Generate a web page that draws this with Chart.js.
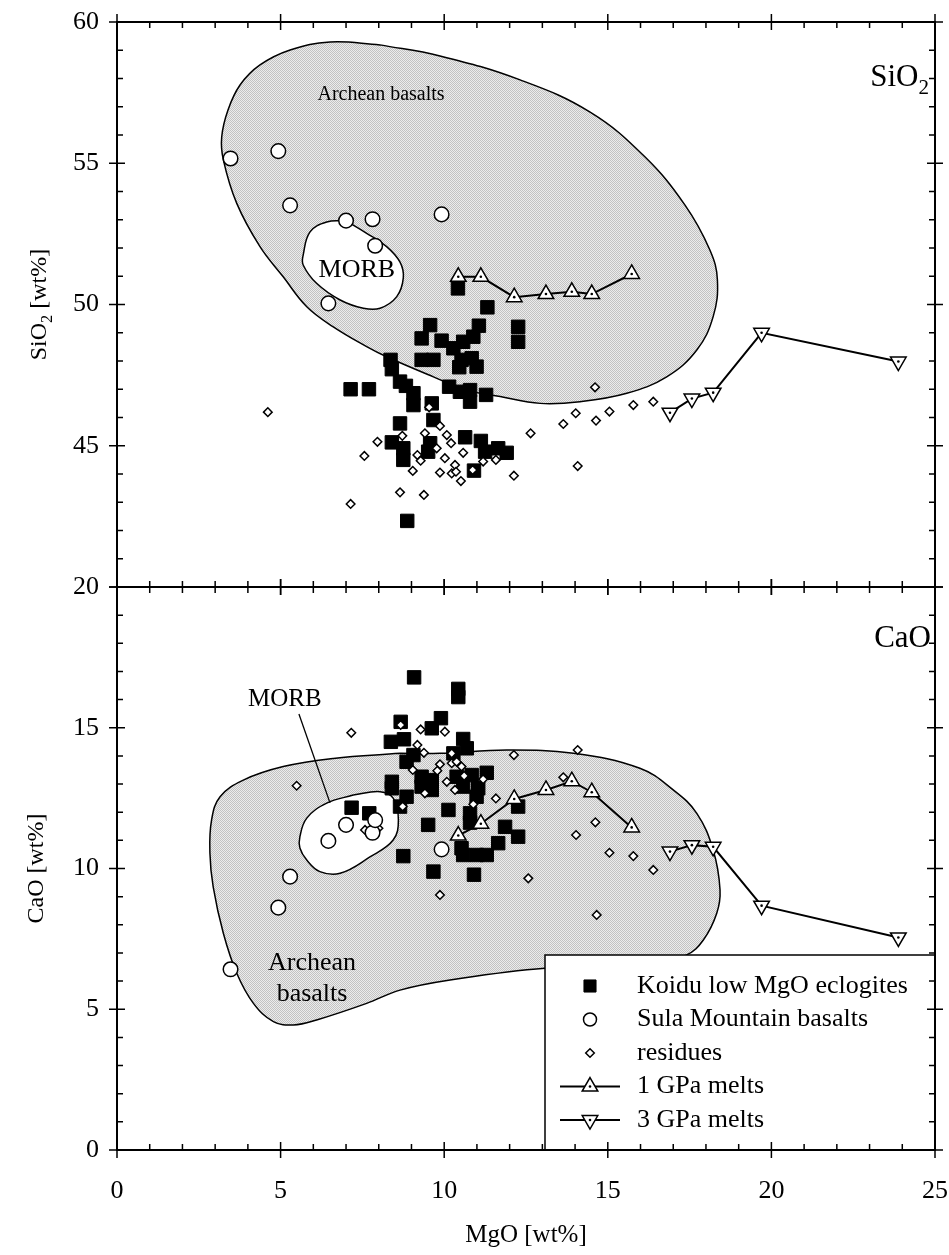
<!DOCTYPE html>
<html>
<head>
<meta charset="utf-8">
<script src="https://cdn.jsdelivr.net/npm/chart.js@4.4.0/dist/chart.umd.min.js"></script>
<style>
html, body { margin: 0; padding: 0; background: #fff; }
#wrap { position: relative; width: 949px; height: 1255px; }
#wrap canvas { position: absolute; left: 0; top: 0; }
</style>
</head>
<body>
<div id="wrap">
<canvas id="sio2Chart" width="949" height="1255"></canvas>
<canvas id="caoChart" width="949" height="1255"></canvas>
</div>
<script>
// tick labels
const mgoTicks = [0, 5, 10, 15, 20, 25];
const sio2Ticks = [45, 50, 55, 60];
const caoTicks = [0, 5, 10, 15, 20];

// Koidu low MgO eclogites, SiO2 panel
const koiduMgoSi = [10.42, 11.32, 12.26, 12.26, 9.57, 9.31, 9.92, 11.06, 10.89, 10.58, 10.28, 9.31, 9.67, 10.53, 10.84,
  10.46, 10.99, 8.36, 8.40, 7.14, 7.70, 8.65, 8.83, 9.06, 9.06, 9.62, 10.15, 10.48, 10.79, 10.79, 11.28, 9.67, 8.65,
  10.64, 11.12, 8.40, 8.75, 8.75, 9.57, 9.51, 11.25, 11.65, 11.91, 10.91, 8.87];
const koiduSio2 = [50.57, 49.90, 49.21, 48.68, 49.27, 48.80, 48.72, 49.25, 48.86, 48.68, 48.45, 48.04, 48.04, 48.04, 48.10,
  47.78, 47.80, 48.04, 47.71, 47.00, 47.00, 47.27, 47.12, 46.86, 46.44, 46.50, 47.09, 46.91, 46.97, 46.56, 46.80, 45.91, 45.79,
  45.30, 45.17, 45.12, 44.91, 44.50, 45.09, 44.79, 44.79, 44.91, 44.75, 44.12, 42.34];
// Koidu low MgO eclogites, CaO panel
const koiduMgoCa = [9.08, 10.43, 10.43, 8.67, 9.90, 9.62, 8.37, 8.77, 10.58, 10.69, 10.28, 9.06, 8.85, 8.40, 8.40, 9.31,
  9.62, 9.31, 9.62, 10.38, 10.84, 11.30, 10.58, 11.04, 10.99, 8.85, 8.65, 7.17, 7.71, 10.13, 10.79, 10.79, 9.51, 12.26,
  11.86, 12.26, 11.65, 10.53, 10.58, 10.99, 11.30, 8.75, 9.67, 10.91];
const koiduCao = [16.79, 16.38, 16.09, 15.21, 15.34, 14.98, 14.50, 14.59, 14.60, 14.27, 14.09, 14.03, 13.79, 13.08, 12.85, 13.26,
  13.14, 12.91, 12.79, 13.26, 13.32, 13.40, 12.91, 12.85, 12.55, 12.55, 12.20, 12.16, 11.96, 12.08, 11.96, 11.63, 11.55, 12.20,
  11.48, 11.13, 10.90, 10.72, 10.48, 10.48, 10.48, 10.44, 9.89, 9.78];

// Sula Mountain basalts
const sulaMgo = [3.47, 4.93, 5.29, 7.00, 7.81, 7.89, 6.46, 9.92];
const sulaSio2 = [55.17, 55.43, 53.51, 52.97, 53.02, 52.08, 50.04, 53.19];
const sulaCao = [6.42, 8.61, 9.71, 11.55, 11.27, 11.72, 10.98, 10.68];

// residues
const resMgoSi = [4.61, 9.54, 9.87, 9.41, 10.08, 10.21, 8.72, 7.96, 7.56, 9.77, 10.58, 9.18, 9.28, 10.02, 10.33, 9.04, 9.87,
  10.23, 10.36, 10.51, 10.87, 11.19, 11.58, 12.13, 12.64, 13.64, 14.02, 14.64, 14.61, 15.05, 15.78, 16.39, 14.08, 8.65, 9.38, 7.14];
const resSio2 = [46.19, 46.36, 45.70, 45.44, 45.38, 45.09, 45.35, 45.14, 44.64, 44.91, 44.75, 44.67, 44.47, 44.56, 44.32, 44.11, 44.05,
  44.02, 44.08, 43.75, 44.14, 44.44, 44.50, 43.94, 45.44, 45.77, 46.15, 45.89, 47.07, 46.21, 46.44, 46.56, 44.28, 43.35, 43.26, 42.94];
const resMgoCa = [5.49, 7.16, 8.67, 9.28, 10.02, 9.18, 9.38, 12.13, 10.23, 10.23, 10.38, 10.53, 9.87, 9.79, 9.04, 10.61, 11.19,
  10.08, 10.33, 9.41, 11.58, 10.89, 8.73, 7.58, 7.99, 9.87, 12.57, 14.08, 13.64, 14.62, 14.03, 15.05, 15.78, 16.39, 14.66];
const resCao = [12.94, 14.82, 15.10, 14.94, 14.86, 14.39, 14.11, 14.03, 14.09, 13.74, 13.79, 13.62, 13.70, 13.47, 13.50, 13.29, 13.17,
  13.08, 12.79, 12.67, 12.49, 12.28, 12.20, 11.37, 11.43, 9.06, 9.65, 14.21, 13.24, 11.64, 11.19, 10.56, 10.44, 9.95, 8.35];

// experimental melts
const melt1Mgo = [10.43, 11.12, 12.14, 13.11, 13.90, 14.51, 15.73];
const melt1Sio2 = [50.98, 50.98, 50.26, 50.37, 50.45, 50.37, 51.08];
const melt1Cao = [11.17, 11.59, 12.47, 12.79, 13.10, 12.71, 11.46];
const melt3Mgo = [16.90, 17.57, 18.22, 19.70, 23.88];
const melt3Sio2 = [46.17, 46.67, 46.88, 49.00, 47.98];
const melt3Cao = [10.60, 10.83, 10.77, 8.68, 7.55];

// field outlines
const archeanSiMgo = [8.04, 9.87, 12.32, 14.46, 16.14, 17.36, 18.12, 18.35, 18.22, 17.72, 16.80, 15.58, 14.15, 12.93,
  11.71, 10.69, 9.67, 8.24, 7.63, 6.61, 5.80, 5.08, 4.37, 3.66, 3.25, 3.20, 3.39, 3.76, 4.37, 5.29, 6.51, 8.04];
const archeanSiO2 = [59.19, 58.80, 57.95, 56.81, 55.22, 53.52, 51.93, 50.87, 49.57, 48.39, 47.44, 46.86, 46.56, 46.50,
  46.74, 46.97, 47.44, 48.15, 48.51, 49.21, 49.92, 50.98, 52.05, 53.58, 55.12, 55.93, 56.88, 57.77, 58.48, 59.01, 59.29, 59.19];
const morbSiMgo = [7.00, 7.63, 8.24, 8.65, 8.75, 8.55, 8.04, 7.53, 6.82, 6.10, 5.69, 5.69, 5.90, 6.41, 7.00];
const morbSiO2 = [52.96, 52.52, 52.05, 51.50, 50.94, 50.28, 49.87, 49.87, 50.16, 50.75, 51.40, 51.75, 52.57, 52.92, 52.96];
const archeanCaMgo = [8.65, 9.87, 11.91, 13.95, 15.98, 17.00, 17.72, 18.22, 18.43, 18.33, 17.92, 17.41, 16.29, 13.08, 10.18,
  8.65, 7.63, 6.10, 5.39, 4.78, 4.17, 3.66, 3.25, 2.94, 2.84, 2.89, 3.15, 3.86, 5.08, 6.61, 8.65];
const archeanCaO = [14.09, 14.09, 14.21, 14.09, 13.56, 12.79, 11.96, 10.66, 9.24, 8.41, 7.46, 6.93, 6.57, 6.46, 6.04,
  5.68, 5.21, 4.62, 4.44, 4.56, 5.21, 6.28, 7.70, 9.35, 10.54, 11.72, 12.55, 13.14, 13.62, 13.91, 14.09];
const morbCaMgo = [7.22, 8.04, 8.44, 8.60, 8.44, 7.73, 6.82, 6.20, 5.80, 5.59, 5.59, 5.80, 6.41, 7.22];
const morbCaO = [12.61, 12.73, 12.50, 11.72, 11.01, 10.41, 9.83, 9.89, 10.30, 10.73, 11.13, 11.79, 12.32, 12.61];
const morbLeaderMgo = [5.56, 6.51];
const morbLeaderCaO = [15.49, 12.33];

const FONT = "'Liberation Serif', 'Times New Roman', serif";
Chart.defaults.font.family = FONT;
Chart.defaults.color = '#000';

const pts = (xs, ys) => xs.map((x, i) => ({ x, y: ys[i] }));

function stipple() {
	const c = document.createElement('canvas');
	c.width = 2;
	c.height = 2;
	const g = c.getContext('2d');
	g.fillStyle = '#ececec';
	g.fillRect(0, 0, 2, 2);
	g.fillStyle = '#c2c2c2';
	g.fillRect(0, 0, 1, 1);
	g.fillRect(1, 1, 1, 1);
	return g.createPattern(c, 'repeat');
}
const grayFill = stipple();

function field(label, data, fillColor, order) {
	return {
		label, data, showLine: true, fill: 'shape', tension: 0.4,
		backgroundColor: fillColor, borderColor: '#000', borderWidth: 1.5,
		pointRadius: 0, order,
	};
}
function marks(label, data, style, order) {
	return Object.assign({ label, data, showLine: false, order }, style);
}
const koiduStyle = { pointStyle: 'rect', pointRadius: 9.5, pointBackgroundColor: '#000', pointBorderColor: '#000', pointBorderWidth: 1 };
const sulaStyle = { pointStyle: 'circle', pointRadius: 7.3, pointBackgroundColor: '#fff', pointBorderColor: '#000', pointBorderWidth: 1.5 };
const resStyle = { pointStyle: 'rectRot', pointRadius: 4.3, pointBackgroundColor: '#fff', pointBorderColor: '#000', pointBorderWidth: 1.5 };
const melt1Style = { pointStyle: 'triangle', pointRadius: 9, pointRotation: 0, pointBackgroundColor: '#fff', pointBorderColor: '#000', pointBorderWidth: 1.5, borderColor: '#000', borderWidth: 2 };
const melt3Style = Object.assign({}, melt1Style, { pointRotation: 180 });
const dotStyle = { pointStyle: 'circle', pointRadius: 1.3, pointBackgroundColor: '#000', pointBorderWidth: 0 };

function meltSets(name, data, style) {
	return [
		Object.assign({ label: name, data, showLine: true, tension: 0, order: 2 }, style),
		marks(name + ' dots', data, dotStyle, 1),
	];
}

function drawFrame(chart) {
	const { ctx, chartArea: a } = chart;
	const xs = chart.scales.x;
	const ys = chart.scales.y;
	ctx.save();
	ctx.strokeStyle = '#000';
	ctx.lineWidth = 2;
	ctx.strokeRect(a.left, a.top, a.right - a.left, a.bottom - a.top);
	ctx.lineWidth = 1.5;
	ctx.beginPath();
	for (let v = xs.min; v <= xs.max; v++) {
		const p = xs.getPixelForValue(v);
		const major = v % 5 === 0;
		ctx.moveTo(p, a.top - (major ? 8 : 0));
		ctx.lineTo(p, a.top + (major ? 8 : 6));
		ctx.moveTo(p, a.bottom + (major ? 8 : 0));
		ctx.lineTo(p, a.bottom - (major ? 8 : 6));
	}
	for (let v = ys.min; v <= ys.max; v++) {
		const p = ys.getPixelForValue(v);
		const major = v % 5 === 0;
		ctx.moveTo(a.left - (major ? 8 : 0), p);
		ctx.lineTo(a.left + (major ? 8 : 6), p);
		ctx.moveTo(a.right + (major ? 8 : 0), p);
		ctx.lineTo(a.right - (major ? 8 : 6), p);
	}
	ctx.stroke();
	ctx.restore();
}

// text with a subscript, anchored by its left edge
function subText(ctx, x, y, parts, size) {
	let cx = x;
	parts.forEach(([txt, sub]) => {
		ctx.font = (sub ? size * 0.68 : size) + 'px ' + FONT;
		ctx.fillText(txt, cx, sub ? y + size * 0.25 : y);
		cx += ctx.measureText(txt).width;
	});
	return cx - x;
}
function subWidth(ctx, parts, size) {
	return parts.reduce((w, [txt, sub]) => {
		ctx.font = (sub ? size * 0.68 : size) + 'px ' + FONT;
		return w + ctx.measureText(txt).width;
	}, 0);
}

function labelAt(chart, txt, mx, my, size) {
	const { ctx } = chart;
	ctx.save();
	ctx.font = size + 'px ' + FONT;
	ctx.fillStyle = '#000';
	ctx.textAlign = 'center';
	ctx.textBaseline = 'middle';
	ctx.fillText(txt, chart.scales.x.getPixelForValue(mx), chart.scales.y.getPixelForValue(my));
	ctx.restore();
}

const topLabels = {
	id: 'topLabels',
	afterDraw(chart) {
		const { ctx, chartArea: a } = chart;
		labelAt(chart, 'Archean basalts', 8.07, 57.42, 20);
		labelAt(chart, 'MORB', 7.33, 51.22, 26);
		ctx.save();
		ctx.fillStyle = '#000';
		ctx.textBaseline = 'alphabetic';
		const big = [['SiO', false], ['2', true]];
		const w = subWidth(ctx, big, 31);
		subText(ctx, a.right - 6 - w, 86, big, 31);
		// axis title
		const title = [['SiO', false], ['2', true], [' [wt%]', false]];
		const tw = subWidth(ctx, title, 24);
		ctx.translate(46, (a.top + a.bottom) / 2);
		ctx.rotate(-Math.PI / 2);
		subText(ctx, -tw / 2, 0, title, 24);
		ctx.restore();
		drawFrame(chart);
	},
};

const legendRows = ['Koidu low MgO eclogites', 'Sula Mountain basalts', 'residues', '1 GPa melts', '3 GPa melts'];

const bottomLabels = {
	id: 'bottomLabels',
	afterDraw(chart) {
		const { ctx, chartArea: a } = chart;
		labelAt(chart, 'MORB', 5.13, 15.99, 25);
		labelAt(chart, 'Archean', 5.96, 6.64, 26);
		labelAt(chart, 'basalts', 5.96, 5.54, 26);
		ctx.save();
		ctx.fillStyle = '#000';
		ctx.font = '31px ' + FONT;
		ctx.textAlign = 'right';
		ctx.textBaseline = 'alphabetic';
		ctx.fillText('CaO', a.right - 4, 647);
		// legend box
		const lx = 545, ly = 955;
		ctx.fillStyle = '#fff';
		ctx.fillRect(lx, ly, a.right - lx, a.bottom - ly);
		ctx.strokeStyle = '#000';
		ctx.lineWidth = 1.5;
		ctx.strokeRect(lx, ly, a.right - lx, a.bottom - ly);
		legendRows.forEach((name, i) => {
			const ds = chart.data.datasets.find(d => d.label === name);
			const y = 986 + i * 33.5;
			const mx = 590;
			if (ds.showLine) {
				ctx.strokeStyle = '#000';
				ctx.lineWidth = 2;
				ctx.beginPath();
				ctx.moveTo(560, y);
				ctx.lineTo(620, y);
				ctx.stroke();
			}
			ctx.fillStyle = ds.pointBackgroundColor;
			ctx.strokeStyle = ds.pointBorderColor;
			ctx.lineWidth = ds.pointBorderWidth;
			const r = ds.pointStyle === 'circle' ? 6.5 : ds.pointRadius * (ds.pointStyle === 'rect' ? 0.9 : 1);
			Chart.helpers.drawPoint(ctx, {
				pointStyle: ds.pointStyle, radius: r,
				rotation: ds.pointRotation || 0, borderWidth: ds.pointBorderWidth,
			}, mx, y);
			if (ds.pointStyle === 'triangle') {
				ctx.fillStyle = '#000';
				ctx.beginPath();
				ctx.arc(mx, y, 1.3, 0, Math.PI * 2);
				ctx.fill();
			}
			ctx.fillStyle = '#000';
			ctx.font = '26px ' + FONT;
			ctx.textAlign = 'left';
			ctx.textBaseline = 'middle';
			ctx.fillText(name, 637, y);
		});
		ctx.restore();
		drawFrame(chart);
	},
};

// labels may hang over the plot frame; the scales must not push it inwards
function noOverhang(s) {
	s.paddingTop = 0;
	s.paddingBottom = 0;
	s.paddingLeft = 0;
	s.paddingRight = 0;
}

function axes(yMin, yMax, yTicks, showX, yTitle) {
	return {
		x: {
			type: 'linear', min: 0, max: 25, display: showX,
			afterBuildTicks: s => { s.ticks = mgoTicks.map(v => ({ value: v })); },
			afterFit: s => { s.height = showX ? 105 : 0; noOverhang(s); },
			grid: { display: false, drawTicks: false },
			border: { display: false },
			ticks: { padding: 26, font: { size: 26 }, color: '#000', maxRotation: 0 },
			title: { display: showX, text: 'MgO [wt%]', font: { size: 25 }, color: '#000', padding: { top: 0, bottom: 5 } },
		},
		y: {
			type: 'linear', min: yMin, max: yMax,
			afterBuildTicks: s => { s.ticks = yTicks.map(v => ({ value: v })); },
			afterFit: s => { s.width = 117; noOverhang(s); },
			grid: { display: false, drawTicks: false },
			border: { display: false },
			ticks: { padding: 18, font: { size: 26 }, color: '#000' },
			title: { display: !!yTitle, text: yTitle || '', font: { size: 24 }, color: '#000', padding: { top: 22, bottom: 0 } },
		},
	};
}

new Chart(document.getElementById('sio2Chart'), {
	type: 'scatter',
	data: {
		datasets: [
			field('Archean basalts', pts(archeanSiMgo, archeanSiO2), grayFill, 20),
			field('MORB', pts(morbSiMgo, morbSiO2), '#fff', 19),
			marks('Koidu low MgO eclogites', pts(koiduMgoSi, koiduSio2), koiduStyle, 6),
			marks('residues', pts(resMgoSi, resSio2), resStyle, 5),
			marks('Sula Mountain basalts', pts(sulaMgo, sulaSio2), sulaStyle, 4),
			...meltSets('1 GPa melts', pts(melt1Mgo, melt1Sio2), melt1Style),
			...meltSets('3 GPa melts', pts(melt3Mgo, melt3Sio2), melt3Style),
		],
	},
	options: {
		responsive: false,
		animation: false,
		devicePixelRatio: 1,
		layout: { autoPadding: false, padding: { top: 22, bottom: 1255 - 587, left: 0, right: 14 } },
		plugins: { legend: { display: false }, tooltip: { enabled: false } },
		scales: axes(40, 60, sio2Ticks, false, null),
	},
	plugins: [topLabels],
});

new Chart(document.getElementById('caoChart'), {
	type: 'scatter',
	data: {
		datasets: [
			field('Archean basalts', pts(archeanCaMgo, archeanCaO), grayFill, 20),
			field('MORB', pts(morbCaMgo, morbCaO), '#fff', 19),
			{ label: 'MORB leader', data: pts(morbLeaderMgo, morbLeaderCaO), showLine: true, borderColor: '#000', borderWidth: 1.3, pointRadius: 0, order: 18 },
			marks('Koidu low MgO eclogites', pts(koiduMgoCa, koiduCao), koiduStyle, 6),
			marks('residues', pts(resMgoCa, resCao), resStyle, 5),
			marks('Sula Mountain basalts', pts(sulaMgo, sulaCao), sulaStyle, 4),
			...meltSets('1 GPa melts', pts(melt1Mgo, melt1Cao), melt1Style),
			...meltSets('3 GPa melts', pts(melt3Mgo, melt3Cao), melt3Style),
		],
	},
	options: {
		responsive: false,
		animation: false,
		devicePixelRatio: 1,
		layout: { autoPadding: false, padding: { top: 587, bottom: 0, left: 0, right: 14 } },
		plugins: { legend: { display: false }, tooltip: { enabled: false } },
		scales: axes(0, 20, caoTicks, true, 'CaO [wt%]'),
	},
	plugins: [bottomLabels],
});
</script>
</body>
</html>
